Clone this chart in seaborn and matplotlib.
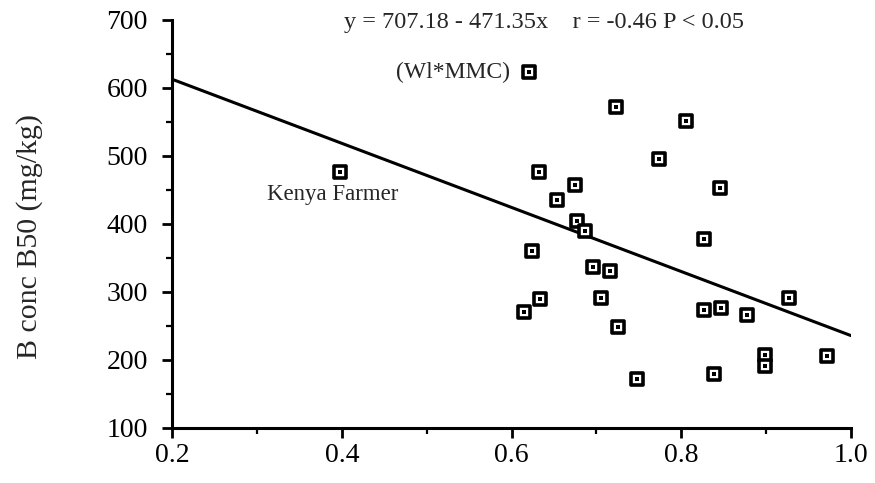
import numpy as np
import pandas as pd
import seaborn as sns
import matplotlib.pyplot as plt
from matplotlib.ticker import MultipleLocator

# Genotype means: x value vs. B concentration at B50 (mg/kg)
x_vals = [0.621, 0.398, 0.723, 0.806, 0.774, 0.632, 0.675, 0.846, 0.654,
          0.677, 0.687, 0.624, 0.827, 0.696, 0.716, 0.634, 0.615, 0.705,
          0.725, 0.827, 0.847, 0.877, 0.927, 0.899, 0.899, 0.972, 0.748,
          0.839]
b_conc = [624, 477, 572, 552, 496, 476, 457, 453, 435,
          404, 389, 360, 378, 337, 331, 290, 271, 291,
          249, 274, 277, 266, 291, 207, 191, 206, 172,
          179]

# Regression line coefficients
intercept = 707.18
slope = -471.35
r_value = -0.46

x_ticks = [0.2, 0.4, 0.6, 0.8, 1.0]
y_ticks = [100, 200, 300, 400, 500, 600, 700]

sns.set_theme(style="ticks")
plt.rcParams['font.family'] = ['Liberation Serif', 'DejaVu Serif']

df = pd.DataFrame({"x": x_vals, "b": b_conc})

fig = plt.figure(figsize=(8.75, 4.83), dpi=100)
ax = fig.add_axes([0.1966, 0.1139, 0.776, 0.8447])

line_x = np.array([0.2, 1.0])
line_df = pd.DataFrame({"x": line_x, "y": intercept + slope * line_x})
sns.lineplot(data=line_df, x="x", y="y", ax=ax, color="black", lw=2.2,
             zorder=2)

sns.scatterplot(data=df, x="x", y="b", ax=ax, marker="s", s=70,
                facecolor="white", edgecolor="black", linewidth=2.6,
                zorder=3)
sns.scatterplot(data=df, x="x", y="b", ax=ax, marker="s", s=5,
                color="black", linewidth=0, zorder=4)

ax.set_xlim(0.2, 1.0)
ax.set_ylim(100, 700)
ax.set_xticks(x_ticks)
ax.set_xticklabels([f"{t:.1f}" for t in x_ticks])
ax.set_yticks(y_ticks)
ax.xaxis.set_minor_locator(MultipleLocator(0.1))
ax.yaxis.set_minor_locator(MultipleLocator(50))

for side in ("top", "right"):
    ax.spines[side].set_visible(False)
for side in ("left", "bottom"):
    ax.spines[side].set_linewidth(2.2)
    ax.spines[side].set_color("black")

ax.tick_params(which="major", direction="out", length=7.5, width=2,
               labelsize=20, colors="black")
ax.tick_params(axis="y", which="major", pad=10)
ax.tick_params(axis="x", which="major", pad=3)
ax.tick_params(which="minor", direction="out", length=4.5, width=1.6,
               colors="black")
ax.set_xlabel("")
ax.set_ylabel("B conc B50 (mg/kg)", fontsize=21.5)
ax.yaxis.set_label_coords(-0.19, 0.469)

ax.text(0.638, 688,
        f"y = {intercept:.2f} - {abs(slope):.2f}x    r = {r_value:.2f} P < 0.05",
        ha="center", va="baseline", fontsize=17.5, clip_on=False)
ax.text(0.598, 615, "(Wl*MMC)", ha="right", va="baseline", fontsize=17)
ax.text(0.389, 435, "Kenya Farmer", ha="center", va="baseline", fontsize=16.5)

fig.savefig("out.png", dpi=100)
